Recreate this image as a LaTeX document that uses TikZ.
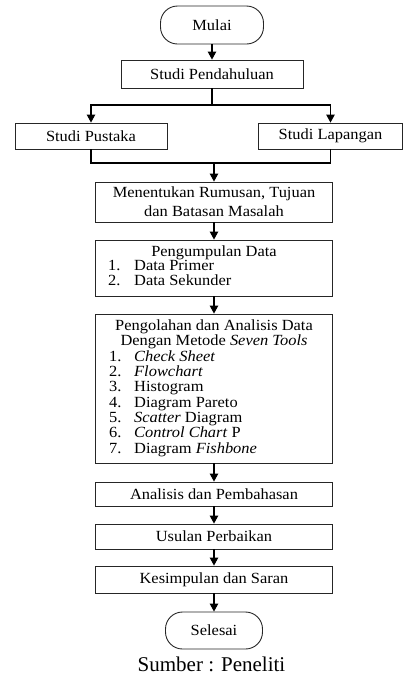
\documentclass[tikz,border=0pt]{standalone}
\usepackage{fontspec}
\setmainfont[FakeStretch=1.06]{Liberation Serif}
\newfontfamily\capfont{Liberation Serif}
\usetikzlibrary{arrows.meta}
\newcommand{\bodyfont}{\fontsize{15.5}{15.3}\selectfont}
\begin{document}
\begin{tikzpicture}[x=1pt,y=-1pt,
  box/.style={draw=black!85, line width=0.9pt, fill=white, inner sep=0pt, font=\bodyfont, align=center},
  term/.style={box, rounded corners=17pt},
  ln/.style={line width=1.1pt},
  arr/.style={line width=1.1pt, -{Triangle[length=8pt,width=8.5pt]}},
  txt/.style={font=\bodyfont, inner sep=0pt}]
\useasboundingbox (0,0) rectangle (404,681);

% terminals and boxes
\node[term, minimum width=103pt, minimum height=38pt] (mulai) at (212,25) {Mulai};
\node[box, minimum width=182pt, minimum height=28pt] (pend) at (212,74) {Studi Pendahuluan};
\node[box, minimum width=152pt, minimum height=26pt] (pus) at (91,136) {Studi Pustaka};
\node[box, minimum width=144pt, minimum height=26pt] (lap) at (330.5,136) {Studi Lapangan};
\node[box, minimum width=237pt, minimum height=40pt, font=\fontsize{15.5}{19}\selectfont] (rum) at (214,202) {Menentukan Rumusan, Tujuan\\dan Batasan Masalah};
\node[box, minimum width=237pt, minimum height=56pt] (kum) at (214,268) {};
\node[box, minimum width=237pt, minimum height=149pt] (olah) at (214,388.5) {};
\node[box, minimum width=237pt, minimum height=24pt] (anal) at (214,494) {Analisis dan Pembahasan};
\node[box, minimum width=237pt, minimum height=25pt] (usul) at (214,536.5) {Usulan Perbaikan};
\node[box, minimum width=237pt, minimum height=27pt] (kes) at (214,579.5) {Kesimpulan dan Saran};
\node[term, minimum width=97pt, minimum height=37pt] (sel) at (214,630.5) {Selesai};

% Pengumpulan Data text
\node[txt, anchor=mid] (kumt) at (214,254) {Pengumpulan Data};
\node[txt, anchor=mid west] (kn1) at (108,268.5) {1.};
\node[txt, anchor=mid west] (ki1) at (134,268.5) {Data Primer};
\node[txt, anchor=mid west] (kn2) at (108,283) {2.};
\node[txt, anchor=mid west] (ki2) at (134,283) {Data Sekunder};

% Pengolahan text
\node[txt, anchor=mid] (olt1) at (214,328) {Pengolahan dan Analisis Data};
\node[txt, anchor=mid] (olt2) at (214,343) {Dengan Metode \textit{Seven Tools}};
\foreach \i/\t/\yy in {1/\textit{Check Sheet}/359, 2/\textit{Flowchart}/374.3, 3/Histogram/389.6, 4/Diagram Pareto/404.9, 5/\textit{Scatter} Diagram/420.2, 6/\textit{Control Chart} P/435.5, 7/Diagram \textit{Fishbone}/450.8}{
  \node[txt, anchor=mid west] (on\i) at (109,\yy) {\i.};
  \node[txt, anchor=mid west] (oi\i) at (134,\yy) {\t};
}

% connectors
\coordinate (br) at (212,105);
\coordinate (jn) at (214,163);
\draw[arr] (mulai) -- (pend);
\draw[ln] (pend.south) -- (br);
\draw[arr] (br) -| (pus.north);
\draw[arr] (br) -| (lap.north);
\draw[ln] (pus.south) |- (jn);
\draw[ln] (lap.south) |- (jn);
\draw[arr] (jn) -- (rum.north);
\draw[arr] (rum) -- (kum);
\draw[arr] (kum) -- (olah);
\draw[arr] (olah) -- (anal);
\draw[arr] (anal) -- (usul);
\draw[arr] (usul) -- (kes);
\draw[arr] (kes) -- (sel);

% caption
\node[inner sep=0pt, font=\capfont\fontsize{21}{24}\selectfont, anchor=mid] (cap) at (211.5,669) {Sumber : Peneliti};
\end{tikzpicture}
\end{document}
